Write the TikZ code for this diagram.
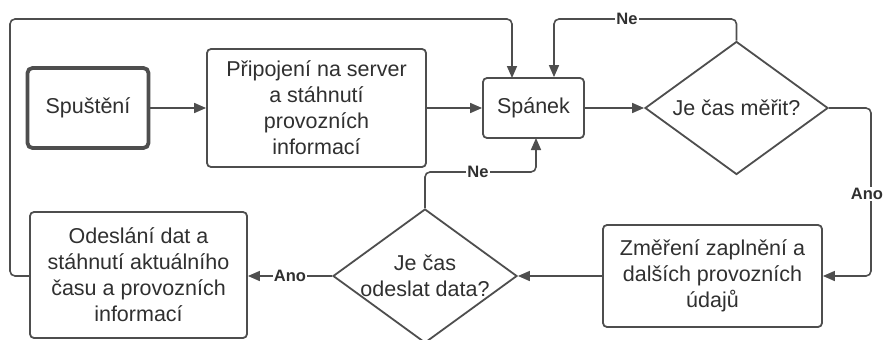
\documentclass[tikz,border=0pt]{standalone}
\usepackage{fontspec}
\setmainfont{Liberation Sans}
\usetikzlibrary{shapes.geometric,arrows.meta,calc}
\definecolor{edge}{HTML}{4E4E4E}
\definecolor{ink}{HTML}{303030}
\tikzset{
  txt/.style={align=center, text=ink, font=\fontsize{21.5}{26}\selectfont},
  box/.style={txt, draw=edge, line width=1.8pt, rounded corners=4pt, inner sep=2pt},
  startbox/.style={box, line width=3.8pt, rounded corners=5pt},
  decision/.style={diamond, draw=edge, line width=1.8pt, inner sep=0pt},
  flow/.style={draw=edge, line width=1.6pt, rounded corners=5pt,
    -{Triangle[length=12pt,width=10pt]}},
  tag/.style={fill=white, text=ink, font=\fontsize{16.5}{18}\bfseries\selectfont,
    inner sep=1pt}
}
\begin{document}
\begin{tikzpicture}[x=1pt,y=-1pt]
\useasboundingbox (0,0) rectangle (887,340);
\fill[white] (0,0) rectangle (887,340);

% process steps
\node[startbox, minimum width=121pt, minimum height=80pt] (start) at (88,108) {Spuštění};
\node[box, minimum width=219pt, minimum height=118pt] (connect) at (316.5,108)
  {Připojení na server\\a stáhnutí\\provozních\\informací};
\node[box, minimum width=101pt, minimum height=60pt] (sleep) at (533.5,108) {Spánek};
\node[decision, minimum width=183pt, minimum height=133pt] (measureq) at (736.5,108) {};
\node[txt] (measureqt) at (measureq.center) {Je čas měřit?};
\node[box, minimum width=219pt, minimum height=102pt] (measure) at (712.5,276)
  {Změření zaplnění a\\dalších provozních\\údajů};
\node[decision, minimum width=184pt, minimum height=134pt] (sendq) at (425,276) {};
\node[txt] (sendqt) at (sendq.center) {Je čas\\odeslat data?};
\node[box, minimum width=217pt, minimum height=126pt] (send) at (138.5,275)
  {Odeslání dat a\\stáhnutí aktuálního\\času a provozních\\informací};

% bend points of the connectors
\coordinate (loopL) at (10,19);
\coordinate (neTop) at (554,19);
\coordinate (anoR) at (871,108);
\coordinate (neMid) at (425,172);

% connectors
\draw[flow] (start) -- (connect);
\draw[flow] (connect) -- (sleep);
\draw[flow] (sleep) -- (measureq);
\draw[flow] (measureq.north) |- (neTop) -- (neTop |- sleep.north);
\node[tag] (ne1) at (627,19) {Ne};
\draw[flow] (measureq.east) -- (anoR) |- (measure.east);
\node[tag] (ano1) at (867,194) {Ano};
\draw[flow] (measure) -- (sendq);
\draw[flow] (sendq.north) -- (neMid) -- (536,172) -- (536,138);
\node[tag] (ne2) at (478,172) {Ne};
\draw[flow] (sendq.west) -- (send.east |- sendq.west);
\node[tag] (ano2) at (290,276) {Ano};
\draw[flow] (send.west |- 0,276) -| (loopL) -- (512,19) -- (512,78);
\end{tikzpicture}
\end{document}
